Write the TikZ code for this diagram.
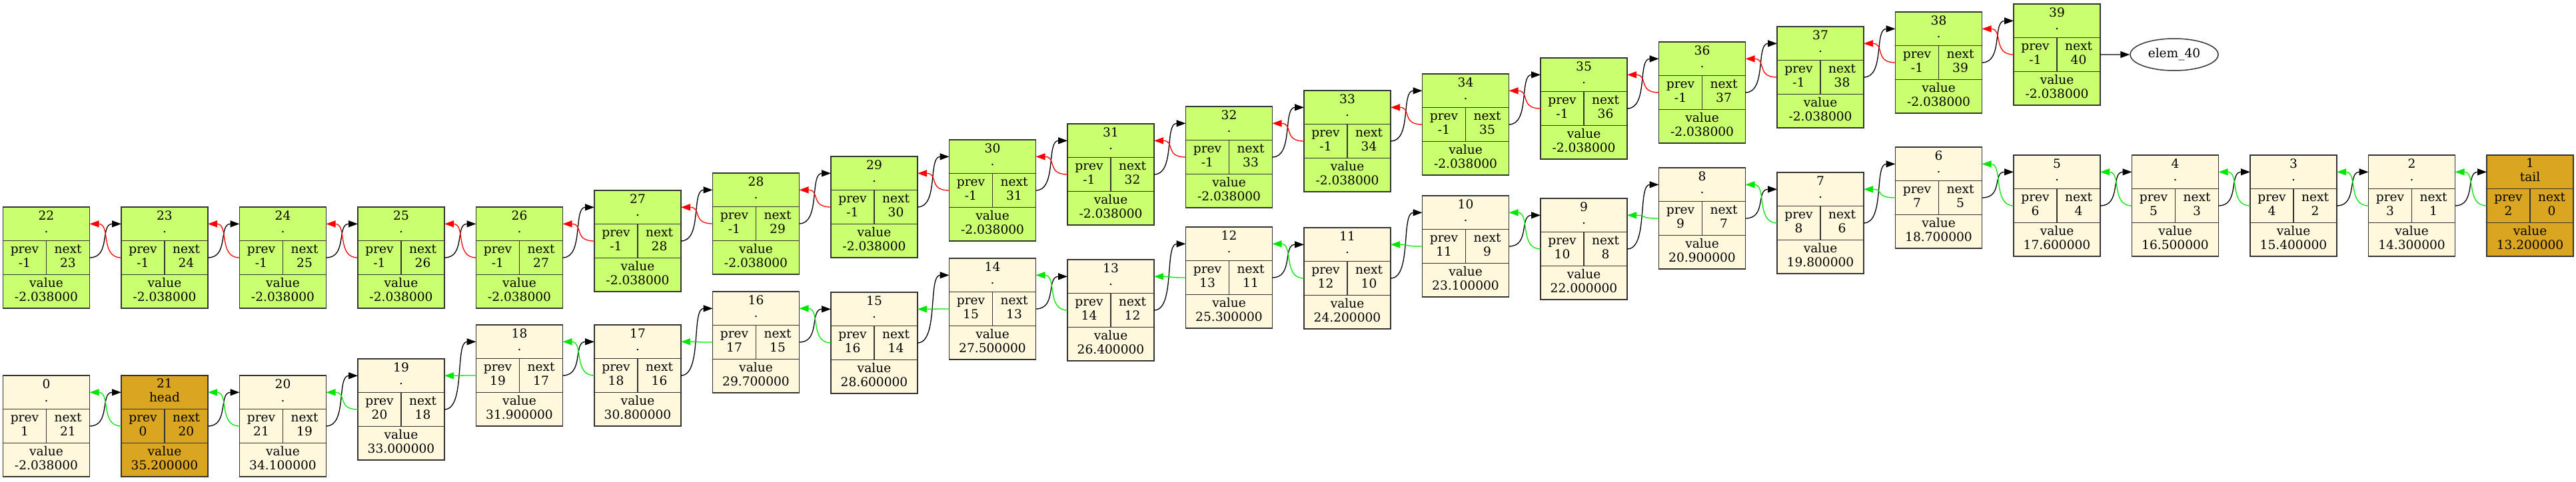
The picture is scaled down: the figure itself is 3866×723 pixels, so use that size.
\documentclass[tikz,border=0pt]{standalone}
\usepackage{fontspec}
\newfontfamily\dvserif{DejaVu Serif}
\usepackage{xcolor}
\definecolor{limecell}{RGB}{202,255,112}
\definecolor{silkcell}{RGB}{255,248,220}
\definecolor{goldcell}{RGB}{218,165,32}
\definecolor{prevred}{RGB}{255,0,0}
\definecolor{prevgreen}{RGB}{0,230,0}
\usepackage{tikz}
\usetikzlibrary{arrows.meta, shapes.geometric}

% one list element: name, x, y, fill, title, subtitle, prev, next, value
\newcommand{\record}[9]{%
  \node[wide, fill=#4, anchor=north west] (#1-t) at (#2,#3) {\strut#5\\\strut#6};
  \node[half, fill=#4, anchor=north west] (#1-p) at (#1-t.south west) {\strut prev\\\strut#7};
  \node[half, fill=#4, anchor=north west] (#1-n) at (#1-p.north east) {\strut next\\\strut#8};
  \node[wide, fill=#4, anchor=north west] (#1-v) at (#1-p.south west) {\strut value\\\strut#9};
}

\begin{document}
\begin{tikzpicture}[
  x=1pt, y=-1pt,
  cell/.style={draw=black!80, line width=1.5pt, inner sep=0pt, outer sep=0pt, align=center,
               minimum height=50.67pt, font=\dvserif\fontsize{18.6pt}{19.3pt}\selectfont},
  wide/.style={cell, minimum width=130pt},
  half/.style={cell, minimum width=65pt},
  nextarr/.style={-{Triangle[length=14pt, width=10pt]}, line width=1.3pt, color=black},
  prevarr/.style={nextarr, color=#1}
]
\useasboundingbox (0,0) rectangle (3866,723);

% free list (unused cells)
\foreach \n/\y in {22/311, 23/311, 24/311, 25/311, 26/311, 27/286, 28/260, 29/235, 30/210,
                   31/186, 32/160, 33/136, 34/111, 35/87, 36/63, 37/40, 38/18, 39/6} {
  \pgfmathsetmacro{\xx}{4.5+177.5*(\n-22)}
  \pgfmathtruncatemacro{\nn}{\n+1}
  \record{r\n}{\xx}{\y}{limecell}{\n}{.}{-1}{\nn}{-2.038000}
}
\node[ellipse, draw=black!80, line width=1.5pt, minimum width=132pt, minimum height=48pt,
      inner sep=0pt, font=\dvserif\fontsize{18.6pt}{19.3pt}\selectfont] (elem) at (3263,82) {elem\_40};

% used list, head to tail
\foreach \n/\k/\y/\s/\p/\q/\v/\c in {
    0/0/564/./1/21/-2.038000/silkcell, 21/1/564/head/0/20/35.200000/goldcell,
    20/2/564/./21/19/34.100000/silkcell, 19/3/539/./20/18/33.000000/silkcell,
    18/4/488/./19/17/31.900000/silkcell, 17/5/488/./18/16/30.800000/silkcell,
    16/6/438/./17/15/29.700000/silkcell, 15/7/439/./16/14/28.600000/silkcell,
    14/8/388/./15/13/27.500000/silkcell, 13/9/390/./14/12/26.400000/silkcell,
    12/10/341/./13/11/25.300000/silkcell, 11/11/342/./12/10/24.200000/silkcell,
    10/12/294/./11/9/23.100000/silkcell, 9/13/298/./10/8/22.000000/silkcell,
    8/14/252/./9/7/20.900000/silkcell, 7/15/259/./8/6/19.800000/silkcell,
    6/16/221/./7/5/18.700000/silkcell, 5/17/233/./6/4/17.600000/silkcell,
    4/18/233/./5/3/16.500000/silkcell, 3/19/233/./4/2/15.400000/silkcell,
    2/20/233/./3/1/14.300000/silkcell, 1/21/233/tail/2/0/13.200000/goldcell} {
  \pgfmathsetmacro{\xx}{4.5+177.5*\k}
  \record{r\n}{\xx}{\y}{\c}{\n}{\s}{\p}{\q}{\v}
}

% links
\foreach \a [evaluate=\a as \b using int(\a+1)] in {22,...,38} {
  \draw[nextarr] (r\a-n.east) .. controls +(32,0) and +(-32,0) .. (r\b-t.west);
  \draw[prevarr=prevred] (r\b-p.west) .. controls +(-32,0) and +(32,0) .. (r\a-t.east);
}
\draw[nextarr] (r39-n.east) -- (elem.west);
\foreach \a/\b in {0/21, 21/20, 20/19, 19/18, 18/17, 17/16, 16/15, 15/14, 14/13, 13/12, 12/11,
                   11/10, 10/9, 9/8, 8/7, 7/6, 6/5, 5/4, 4/3, 3/2, 2/1} {
  \draw[nextarr] (r\a-n.east) .. controls +(32,0) and +(-32,0) .. (r\b-t.west);
  \draw[prevarr=prevgreen] (r\b-p.west) .. controls +(-32,0) and +(32,0) .. (r\a-t.east);
}
\end{tikzpicture}
\end{document}
